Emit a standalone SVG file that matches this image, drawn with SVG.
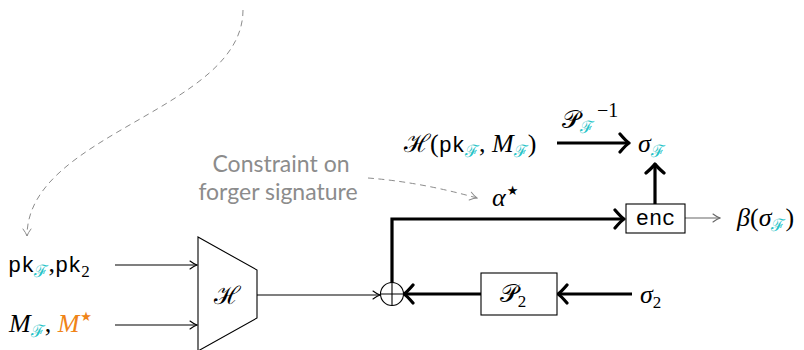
<svg xmlns="http://www.w3.org/2000/svg" width="804" height="350" viewBox="0 0 804 350">
  <style>
    .math { font-family: "Liberation Serif", "DejaVu Serif", serif; font-style: italic; font-size: 26px; fill: #000; }
    .rm { font-family: "Liberation Serif", "DejaVu Serif", serif; font-style: normal; font-size: 26px; fill: #000; }
    .cal { font-family: "DejaVu Serif", "Liberation Serif", serif; font-style: normal; font-size: 25px; fill: #000; }
    .tt { font-family: "Liberation Mono", "DejaVu Sans Mono", monospace; font-style: normal; font-size: 22px; fill: #000; }
    .sub { font-size: 17px; }
    .sup { font-size: 20px; }
    .star { font-family: "DejaVu Sans", sans-serif; font-style: normal; font-size: 13px; }
    .cy { fill: #27c4c8; }
    .or { fill: #ef8417; }
    .note { font-family: Lato, "Open Sans", sans-serif; font-size: 23px; fill: #8c8c8c; }
    .thin { fill: none; stroke: #000; stroke-width: 1.1; }
    .thick { fill: none; stroke: #000; stroke-width: 3.2; }
    .grey { fill: none; stroke: #666; stroke-width: 1.1; }
    .dash { fill: none; stroke: #8c8c8c; stroke-width: 1; stroke-dasharray: 6 4.5; }
    .box { fill: #fff; stroke: #000; stroke-width: 1.1; }
  </style>
  <defs>
    <marker id="a-thin" viewBox="-9 -5 10 10" refX="0" refY="0" markerWidth="10" markerHeight="10" markerUnits="userSpaceOnUse" orient="auto">
      <path d="M-7,-4 Q-3,-1 0,0 Q-3,1 -7,4" fill="none" stroke="#000" stroke-width="1.1" stroke-linecap="round"/>
    </marker>
    <marker id="a-grey" viewBox="-9 -5 10 10" refX="0" refY="0" markerWidth="10" markerHeight="10" markerUnits="userSpaceOnUse" orient="auto">
      <path d="M-7,-4 Q-3,-1 0,0 Q-3,1 -7,4" fill="none" stroke="#666" stroke-width="1.1" stroke-linecap="round"/>
    </marker>
    <marker id="a-dash" viewBox="-9 -5 10 10" refX="0" refY="0" markerWidth="10" markerHeight="10" markerUnits="userSpaceOnUse" orient="auto">
      <path d="M-7,-4 Q-3,-1 0,0 Q-3,1 -7,4" fill="none" stroke="#8c8c8c" stroke-width="1" stroke-linecap="round"/>
    </marker>
    <marker id="a-thick" viewBox="-12 -11 14 22" refX="0" refY="0" markerWidth="14" markerHeight="22" markerUnits="userSpaceOnUse" orient="auto">
      <path d="M-9,-9 Q-3,-2 0,0 Q-3,2 -9,9" fill="none" stroke="#000" stroke-width="3.2" stroke-linecap="round" stroke-linejoin="round"/>
    </marker>
  </defs>

  <!-- connectors -->
  <g id="connectors">
    <path class="dash" d="M243,10 C243,110 27,133 27,236" marker-end="url(#a-dash)"/>
    <path class="dash" d="M368,178 Q420,182 477,198" marker-end="url(#a-dash)"/>
    <path class="thin" d="M115,265 H197" marker-end="url(#a-thin)"/>
    <path class="thin" d="M115,325 H197" marker-end="url(#a-thin)"/>
    <path class="thin" d="M257,295 H380" marker-end="url(#a-thin)"/>
    <path class="thick" d="M392,283 V219 H624" marker-end="url(#a-thick)"/>
    <path class="thick" d="M655,204 V164" marker-end="url(#a-thick)"/>
    <path class="thick" d="M557,143 H629" marker-end="url(#a-thick)"/>
    <path class="grey" d="M685,218 H720" marker-end="url(#a-grey)"/>
    <path class="thick" d="M632,294 H558" marker-end="url(#a-thick)"/>
    <path class="thick" d="M481,294 H404" marker-end="url(#a-thick)"/>
  </g>

  <!-- hash function block -->
  <g id="hash">
    <polygon class="box" points="198,237 257,270 257,318 198,351"/>
    <text class="cal" x="227" y="304" text-anchor="middle">ℋ</text>
  </g>

  <!-- xor combiner -->
  <g id="xor">
    <circle class="box" cx="392" cy="294" r="11.5"/>
    <path class="thin" d="M380.5,294 H403.5 M392,282.5 V305.5"/>
  </g>

  <!-- permutation P2 -->
  <g id="perm2">
    <rect class="box" x="481" y="273" width="76" height="42"/>
    <text class="cal" x="513" y="302" text-anchor="middle">𝒫<tspan class="rm sub" dy="5">2</tspan></text>
  </g>

  <!-- encoder -->
  <g id="enc">
    <rect class="box" x="626" y="204" width="59" height="29"/>
    <text class="tt" x="655.5" y="225" text-anchor="middle">enc</text>
  </g>

  <!-- inputs -->
  <g id="in-pk">
    <text x="8" y="272"><tspan class="tt">pk</tspan><tspan class="cal sub cy" dy="5">ℱ</tspan><tspan class="rm" dy="-5">,</tspan><tspan class="tt">pk</tspan><tspan class="rm sub" dy="5">2</tspan></text>
  </g>
  <g id="in-msg">
    <text x="9" y="332"><tspan class="math">M</tspan><tspan class="cal sub cy" dy="5">ℱ</tspan><tspan class="rm" dy="-5">, </tspan><tspan class="math or">M</tspan><tspan class="star or" dx="1" dy="-11">★</tspan></text>
  </g>

  <!-- forger target -->
  <g id="target">
    <text x="404" y="152"><tspan class="cal">ℋ</tspan><tspan class="rm">(</tspan><tspan class="tt">pk</tspan><tspan class="cal sub cy" dy="5">ℱ</tspan><tspan class="rm" dy="-5">, </tspan><tspan class="math">M</tspan><tspan class="cal sub cy" dy="5">ℱ</tspan><tspan class="rm" dy="-5">)</tspan></text>
    <text x="562" y="128"><tspan class="cal">𝒫</tspan><tspan class="cal sub cy" dy="5">ℱ</tspan><tspan class="rm sup" dx="3" dy="-16">−1</tspan></text>
  </g>

  <g id="sigma-f">
    <text x="638" y="152"><tspan class="math">σ</tspan><tspan class="cal sub cy" dy="5">ℱ</tspan></text>
  </g>

  <g id="alpha">
    <text x="492" y="206"><tspan class="math">α</tspan><tspan class="star" dx="1" dy="-11">★</tspan></text>
  </g>

  <g id="beta">
    <text x="737" y="226"><tspan class="math">β</tspan><tspan class="rm">(</tspan><tspan class="math">σ</tspan><tspan class="cal sub cy" dy="5">ℱ</tspan><tspan class="rm" dy="-5">)</tspan></text>
  </g>

  <g id="sigma-2">
    <text x="640" y="303"><tspan class="math">σ</tspan><tspan class="rm sub" dy="5">2</tspan></text>
  </g>

  <g id="note">
    <text class="note" x="281" y="172" text-anchor="middle">Constraint on</text>
    <text class="note" x="278" y="200" text-anchor="middle">forger signature</text>
  </g>
</svg>
